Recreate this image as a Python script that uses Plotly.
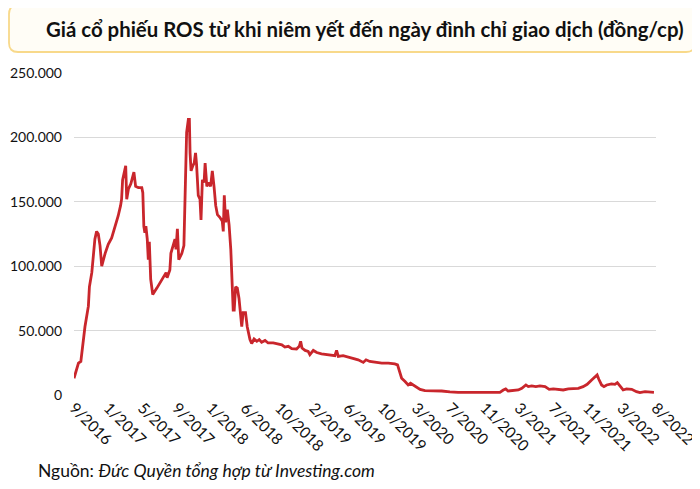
import plotly.graph_objects as go

# Giá cổ phiếu ROS (đồng/cp), đọc từ biểu đồ gốc
# pos: vị trí trên trục, tính theo số khoảng giữa hai nhãn thời gian
tick_labels = ["9/2016", "1/2017", "5/2017", "9/2017", "1/2018", "6/2018",
               "10/2018", "2/2019", "6/2019", "10/2019", "3/2020", "7/2020",
               "11/2020", "3/2021", "7/2021", "11/2021", "3/2022", "8/2022"]

pos = [0.00, 0.13, 0.20, 0.27, 0.32, 0.42, 0.45, 0.52, 0.56, 0.61,
       0.66, 0.71, 0.76, 0.81, 0.91, 1.00, 1.10, 1.20, 1.29, 1.36,
       1.39, 1.42, 1.46, 1.51, 1.54, 1.59, 1.66, 1.71, 1.75, 1.80,
       1.88, 1.98, 2.01, 2.04, 2.07, 2.10, 2.14, 2.17, 2.20, 2.24,
       2.30, 2.42, 2.51, 2.61, 2.69, 2.72, 2.80, 2.83, 2.90, 2.95,
       2.98, 3.02, 3.06, 3.15, 3.21, 3.25, 3.29, 3.34, 3.37, 3.39,
       3.42, 3.47, 3.51, 3.55, 3.58, 3.63, 3.68, 3.71, 3.75, 3.80,
       3.83, 3.88, 3.94, 3.99, 4.04, 4.09, 4.14, 4.19, 4.26, 4.33,
       4.36, 4.39, 4.43, 4.48, 4.53, 4.58, 4.61, 4.65, 4.68, 4.72,
       4.77, 4.82, 4.90, 4.94, 5.01, 5.06, 5.14, 5.19, 5.26, 5.34,
       5.41, 5.48, 5.58, 5.67, 5.82, 5.97, 6.07, 6.16, 6.26, 6.36,
       6.50, 6.58, 6.62, 6.66, 6.75, 6.84, 6.89, 6.99, 7.09, 7.23,
       7.38, 7.53, 7.62, 7.67, 7.72, 7.86, 8.01, 8.16, 8.30, 8.45,
       8.53, 8.64, 8.79, 8.99, 9.18, 9.37, 9.45, 9.50, 9.57, 9.67,
       9.76, 9.83, 9.96, 10.11, 10.25, 10.49, 10.74, 10.98, 11.22, 11.57,
       11.95, 12.44, 12.54, 12.61, 12.68, 12.83, 12.98, 13.08, 13.14, 13.20,
       13.27, 13.37, 13.49, 13.61, 13.76, 13.88, 14.00, 14.14, 14.29, 14.44,
       14.58, 14.73, 14.87, 14.99, 15.12, 15.22, 15.28, 15.33, 15.41, 15.48,
       15.56, 15.70, 15.80, 15.87, 15.95, 16.04, 16.14, 16.29, 16.43, 16.53,
       16.68, 16.82, 16.94]

price = [13000, 24700, 26000, 43000, 53000, 69000, 84000, 95000, 108000, 121000,
         127000, 125000, 116000, 100000, 110000, 117000, 122000, 130000, 139000, 147000,
         152000, 167000, 171000, 178000, 152000, 160000, 164000, 170000, 173000, 162000,
         161000, 161000, 157000, 131000, 126000, 131000, 121000, 105000, 119000, 90000,
         78000, 83000, 87000, 92000, 95000, 91000, 97000, 110000, 116000, 121000,
         113000, 129000, 105000, 110000, 116000, 152000, 204000, 214000, 214000, 188000,
         174000, 178000, 180000, 188000, 179000, 155000, 152000, 136000, 167000, 165000,
         180000, 162000, 165000, 162000, 174000, 162000, 147000, 140000, 138000, 135000,
         127000, 155000, 134000, 144000, 132000, 113000, 97000, 66000, 66000, 84000,
         83000, 75000, 53000, 64000, 64000, 53000, 43000, 40000, 43500, 41700,
         43000, 41000, 42400, 40400, 40400, 39800, 39000, 37200, 37800, 36000,
         35700, 37800, 41700, 36500, 34600, 33900, 31300, 34600, 33000, 32000,
         31300, 30500, 30500, 34600, 30000, 30500, 29400, 27900, 27300, 25300,
         27300, 26000, 25500, 24700, 24700, 24200, 23400, 19500, 13000, 10400,
         7800, 9100, 7000, 4400, 3400, 3400, 3100, 2500, 2100, 2100,
         2100, 2100, 3900, 4700, 3100, 3400, 3900, 5200, 6500, 7800,
         6500, 7000, 6500, 7000, 6500, 4400, 4700, 4400, 3900, 4700,
         4700, 5200, 6500, 8300, 11700, 14300, 15600, 12200, 7800, 6500,
         7800, 8600, 8300, 9600, 6500, 3900, 4700, 4400, 2600, 1800,
         2600, 2600, 2100]

# trang html có lề body 8px, nên hình nhỏ lại và dời lên/trái cho khớp
OFF = 8
W, H = 700 - OFF, 489 - OFF
L, T = 74 - OFF, 73 - OFF
R = W - (656 - OFF)
B = H - (395 - OFF)
PW, PH = W - L - R, H - T - B


def px(x):
    # x theo toạ độ màn hình 700x489
    return (x - OFF - L) / PW


def py(y):
    return (H - B - (y - OFF)) / PH


fig = go.Figure()
fig.add_trace(go.Scatter(x=pos, y=price, mode="lines",
                         line=dict(color="#c9262c", width=2.8),
                         hoverinfo="skip"))

# khung bo tròn của tiêu đề
x0, x1, y0, y1, r = 9, 695, 5, 52, 9
path = (f"M {px(x0 + r)} {py(y0)} L {px(x1 - r)} {py(y0)} "
        f"Q {px(x1)} {py(y0)} {px(x1)} {py(y0 + r)} "
        f"L {px(x1)} {py(y1 - r)} Q {px(x1)} {py(y1)} {px(x1 - r)} {py(y1)} "
        f"L {px(x0 + r)} {py(y1)} Q {px(x0)} {py(y1)} {px(x0)} {py(y1 - r)} "
        f"L {px(x0)} {py(y0 + r)} Q {px(x0)} {py(y0)} {px(x0 + r)} {py(y0)} Z")
fig.add_shape(type="path", path=path, xref="paper", yref="paper",
              line=dict(color="#f8d98a", width=1.8), fillcolor="#fffdf6",
              layer="below")

fig.add_annotation(text="<b>Giá cổ phiếu ROS từ khi niêm yết đến ngày đình chỉ giao dịch (đồng/cp)</b>",
                   x=px(365), y=py(29), xref="paper", yref="paper",
                   xanchor="center", yanchor="middle", showarrow=False,
                   font=dict(family="Lato", size=20.4, color="#111111"))

fig.add_annotation(text="Nguồn: <i>Đức Quyền tổng hợp từ Investing.com</i>",
                   x=px(36), y=py(470), xref="paper", yref="paper",
                   xanchor="left", yanchor="middle", showarrow=False,
                   font=dict(family="Lato", size=17.5, color="#111111"))

fig.update_layout(
    width=W, height=H,
    margin=dict(l=L, r=R, t=T, b=B),
    paper_bgcolor="white", plot_bgcolor="white",
    separators=",.",
    showlegend=False,
    font=dict(family="Lato", color="#111111"),
)
fig.update_xaxes(range=[0, 17], tickvals=list(range(len(tick_labels))),
                 ticktext=tick_labels, tickangle=45, showgrid=False,
                 zeroline=False, showline=False, ticks="", automargin=False,
                 tickfont=dict(size=15.5, color="#111111"))
fig.update_yaxes(range=[0, 250000], dtick=50000, tickformat=",d",
                 showgrid=True, gridcolor="#d9d9d9", gridwidth=1,
                 zeroline=False, showline=False, ticks="", automargin=False,
                 ticklabelstandoff=11,
                 tickfont=dict(size=14, color="#111111"))

fig.write_html("out.html")
